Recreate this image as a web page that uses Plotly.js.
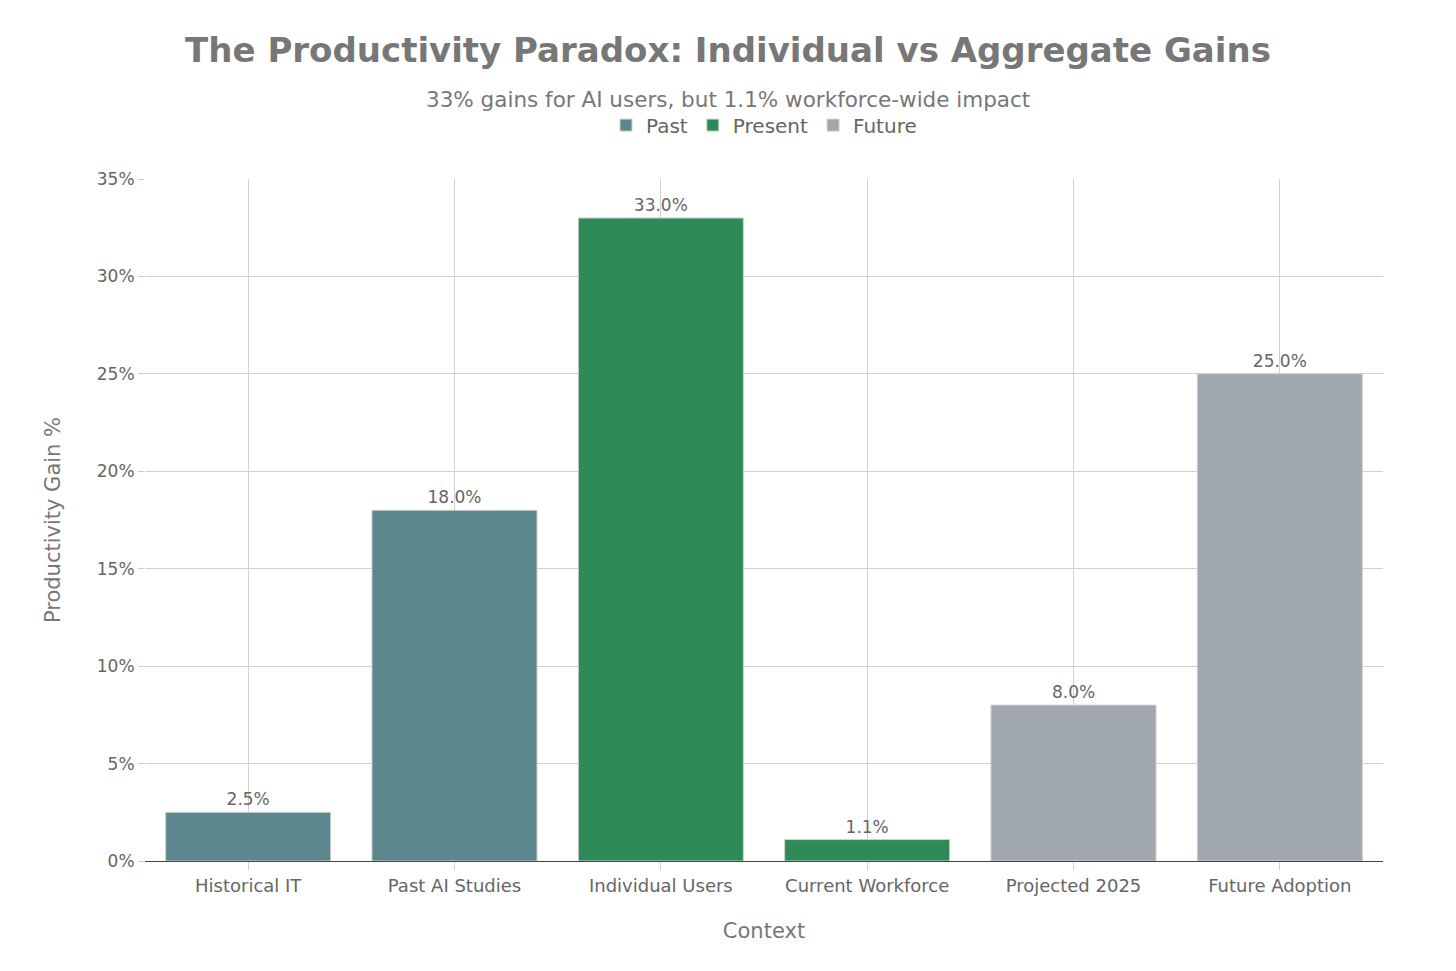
<!DOCTYPE html>
<html>
<head>
<meta charset="utf-8">
<script src="https://cdn.plot.ly/plotly-3.0.1.min.js"></script>
<style>html,body{margin:0;padding:0;background:#fff;}#chart{width:1456px;height:971px;}</style>
</head>
<body>
<div id="chart"></div>
<script>
const pastCategories = ["Historical IT", "Past AI Studies"];
const pastValues = [2.5, 18.0];
const presentCategories = ["Individual Users", "Current Workforce"];
const presentValues = [33.0, 1.1];
const futureCategories = ["Projected 2025", "Future Adoption"];
const futureValues = [8.0, 25.0];
const yTickValues = [0, 5, 10, 15, 20, 25, 30, 35];
const yTickLabels = ["0%", "5%", "10%", "15%", "20%", "25%", "30%", "35%"];

const font = "'DejaVu Sans', sans-serif";
function mk(name, x, y, color) {
  return {
    type: 'bar', name: name, x: x, y: y,
    marker: {color: color, line: {color: '#d0d0d0', width: 1}},
    text: y.map(v => v.toFixed(1) + '%'),
    textposition: 'outside',
    textfont: {size: 17, color: '#666', family: font},
    cliponaxis: false,
    width: 0.8,
    hoverinfo: 'x+y'
  };
}
const data = [
  mk('Past', pastCategories, pastValues, '#5D878F'),
  mk('Present', presentCategories, presentValues, '#2E8B57'),
  mk('Future', futureCategories, futureValues, '#A0A7AF')
];
const layout = {
  width: 1456, height: 971,
  margin: {l: 145, r: 73, t: 179, b: 110},
  paper_bgcolor: '#fff', plot_bgcolor: '#fff',
  barmode: 'overlay',
  font: {family: font, color: '#666'},
  title: {
    text: '<b>The Productivity Paradox: Individual vs Aggregate Gains</b>',
    font: {family: "'DejaVu Sans', sans-serif", size: 34, color: '#777'},
    x: 0.5, xanchor: 'center', y: 0.948, yanchor: 'middle'
  },
  annotations: [{
    text: '33% gains for AI users, but 1.1% workforce-wide impact',
    xref: 'paper', yref: 'paper', x: 0.471, y: 1.117,
    xanchor: 'center', yanchor: 'middle', showarrow: false,
    font: {size: 21.5, color: '#777', family: font}
  }],
  legend: {
    orientation: 'h', x: 0.5, xanchor: 'center', y: 1.079, yanchor: 'middle',
    font: {size: 20, color: '#666', family: font},
    traceorder: 'normal'
  },
  xaxis: {
    categoryorder: 'array',
    categoryarray: pastCategories.concat(presentCategories, futureCategories),
    showgrid: true, gridcolor: '#d0d0d0', gridwidth: 1,
    showline: true, linecolor: '#444', linewidth: 1,
    ticks: 'outside', tickcolor: '#d0d0d0', ticklen: 8,
    tickfont: {size: 18, color: '#666', family: font},
    title: {text: 'Context', font: {size: 21, color: '#777', family: font}, standoff: 28}
  },
  yaxis: {
    range: [0, 35],
    tickvals: yTickValues, ticktext: yTickLabels,
    showgrid: true, gridcolor: '#d0d0d0', gridwidth: 1,
    zeroline: false,
    ticks: 'outside', tickcolor: '#d0d0d0', ticklen: 6,
    tickfont: {size: 17, color: '#666', family: font},
    title: {text: 'Productivity Gain %', font: {size: 21, color: '#777', family: font}, standoff: 30}
  }
};
Plotly.newPlot('chart', data, layout, {displayModeBar: false});
</script>
</body>
</html>
